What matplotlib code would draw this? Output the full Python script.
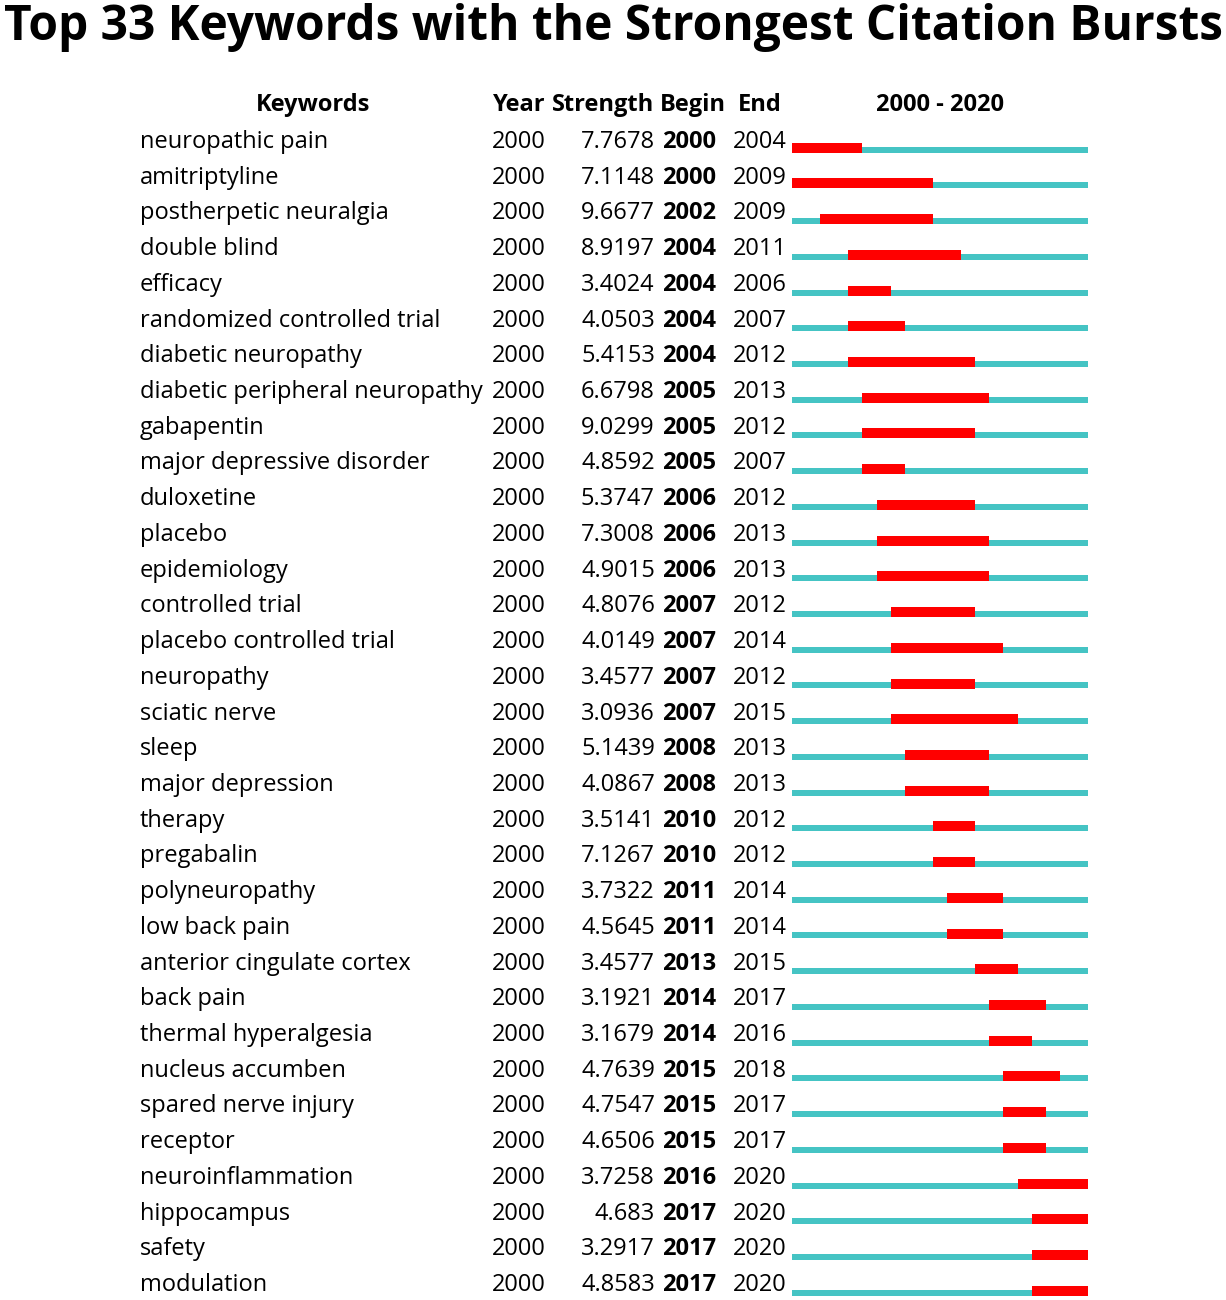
import matplotlib
matplotlib.use("Agg")
import matplotlib.pyplot as plt

# Citation burst data (CiteSpace style table)
keywords = [
    "neuropathic pain", "amitriptyline", "postherpetic neuralgia", "double blind",
    "efficacy", "randomized controlled trial", "diabetic neuropathy",
    "diabetic peripheral neuropathy", "gabapentin", "major depressive disorder",
    "duloxetine", "placebo", "epidemiology", "controlled trial",
    "placebo controlled trial", "neuropathy", "sciatic nerve", "sleep",
    "major depression", "therapy", "pregabalin", "polyneuropathy",
    "low back pain", "anterior cingulate cortex", "back pain",
    "thermal hyperalgesia", "nucleus accumben", "spared nerve injury",
    "receptor", "neuroinflammation", "hippocampus", "safety", "modulation",
]
strength = [
    "7.7678", "7.1148", "9.6677", "8.9197", "3.4024", "4.0503", "5.4153",
    "6.6798", "9.0299", "4.8592", "5.3747", "7.3008", "4.9015", "4.8076",
    "4.0149", "3.4577", "3.0936", "5.1439", "4.0867", "3.5141", "7.1267",
    "3.7322", "4.5645", "3.4577", "3.1921", "3.1679", "4.7639", "4.7547",
    "4.6506", "3.7258", "4.683", "3.2917", "4.8583",
]
begin = [2000, 2000, 2002, 2004, 2004, 2004, 2004, 2005, 2005, 2005, 2006,
         2006, 2006, 2007, 2007, 2007, 2007, 2008, 2008, 2010, 2010, 2011,
         2011, 2013, 2014, 2014, 2015, 2015, 2015, 2016, 2017, 2017, 2017]
end = [2004, 2009, 2009, 2011, 2006, 2007, 2012, 2013, 2012, 2007, 2012,
       2013, 2013, 2012, 2014, 2012, 2015, 2013, 2013, 2012, 2012, 2014,
       2014, 2015, 2017, 2016, 2018, 2017, 2017, 2020, 2020, 2020, 2020]
year = [2000] * len(keywords)
start_year, end_year = 2000, 2020

W, H = 1226, 1300
row0, row_h = 140, 35.72  # pixel center of first row and spacing

plt.rcParams['font.family'] = ['Open Sans', 'DejaVu Sans']

fig = plt.figure(figsize=(W / 100, H / 100), dpi=100)

# text layer in pixel coordinates
ax = fig.add_axes([0, 0, 1, 1])
ax.set_xlim(0, W)
ax.set_ylim(H, 0)
ax.axis("off")

# bar layer: x in years, y in row index
x0, x1 = 792, 1088
bx = fig.add_axes([x0 / W, 0, (x1 - x0) / W, 1])
bx.set_xlim(start_year, end_year + 1)
bx.set_ylim((H - row0) / row_h, -row0 / row_h)
bx.axis("off")

fs = 17
hfs = 17
ax.text(W / 2, 27, "Top 33 Keywords with the Strongest Citation Bursts",
        fontsize=34.5, fontweight="bold", ha="center", va="center")

hy = 105
ax.text(313, hy, "Keywords", fontsize=hfs, fontweight="bold", ha="center", va="center")
ax.text(519, hy, "Year", fontsize=hfs, fontweight="bold", ha="center", va="center")
ax.text(603, hy, "Strength", fontsize=hfs, fontweight="bold", ha="center", va="center")
ax.text(693, hy, "Begin", fontsize=hfs, fontweight="bold", ha="center", va="center")
ax.text(760, hy, "End", fontsize=hfs, fontweight="bold", ha="center", va="center")
ax.text(940, hy, f"{start_year} - {end_year}", fontsize=hfs, fontweight="bold",
        ha="center", va="center")

n_years = end_year - start_year + 1
for i, kw in enumerate(keywords):
    y = row0 + 2 + i * row_h
    ax.text(140, y, kw, fontsize=fs, ha="left", va="center")
    ax.text(519, y, str(year[i]), fontsize=fs, ha="center", va="center")
    ax.text(655, y, strength[i], fontsize=fs, ha="right", va="center")
    ax.text(662, y, str(begin[i]), fontsize=fs, fontweight="bold", ha="left", va="center")
    ax.text(760, y, str(end[i]), fontsize=fs, ha="center", va="center")

    # full period (teal) then burst (red)
    bx.barh(i + 0.27, n_years, left=start_year, height=0.168, color="#45C4C4")
    bx.barh(i + 0.216, end[i] - begin[i] + 1, left=begin[i], height=0.28, color="#FF0000")

fig.savefig("out.png", dpi=100)
